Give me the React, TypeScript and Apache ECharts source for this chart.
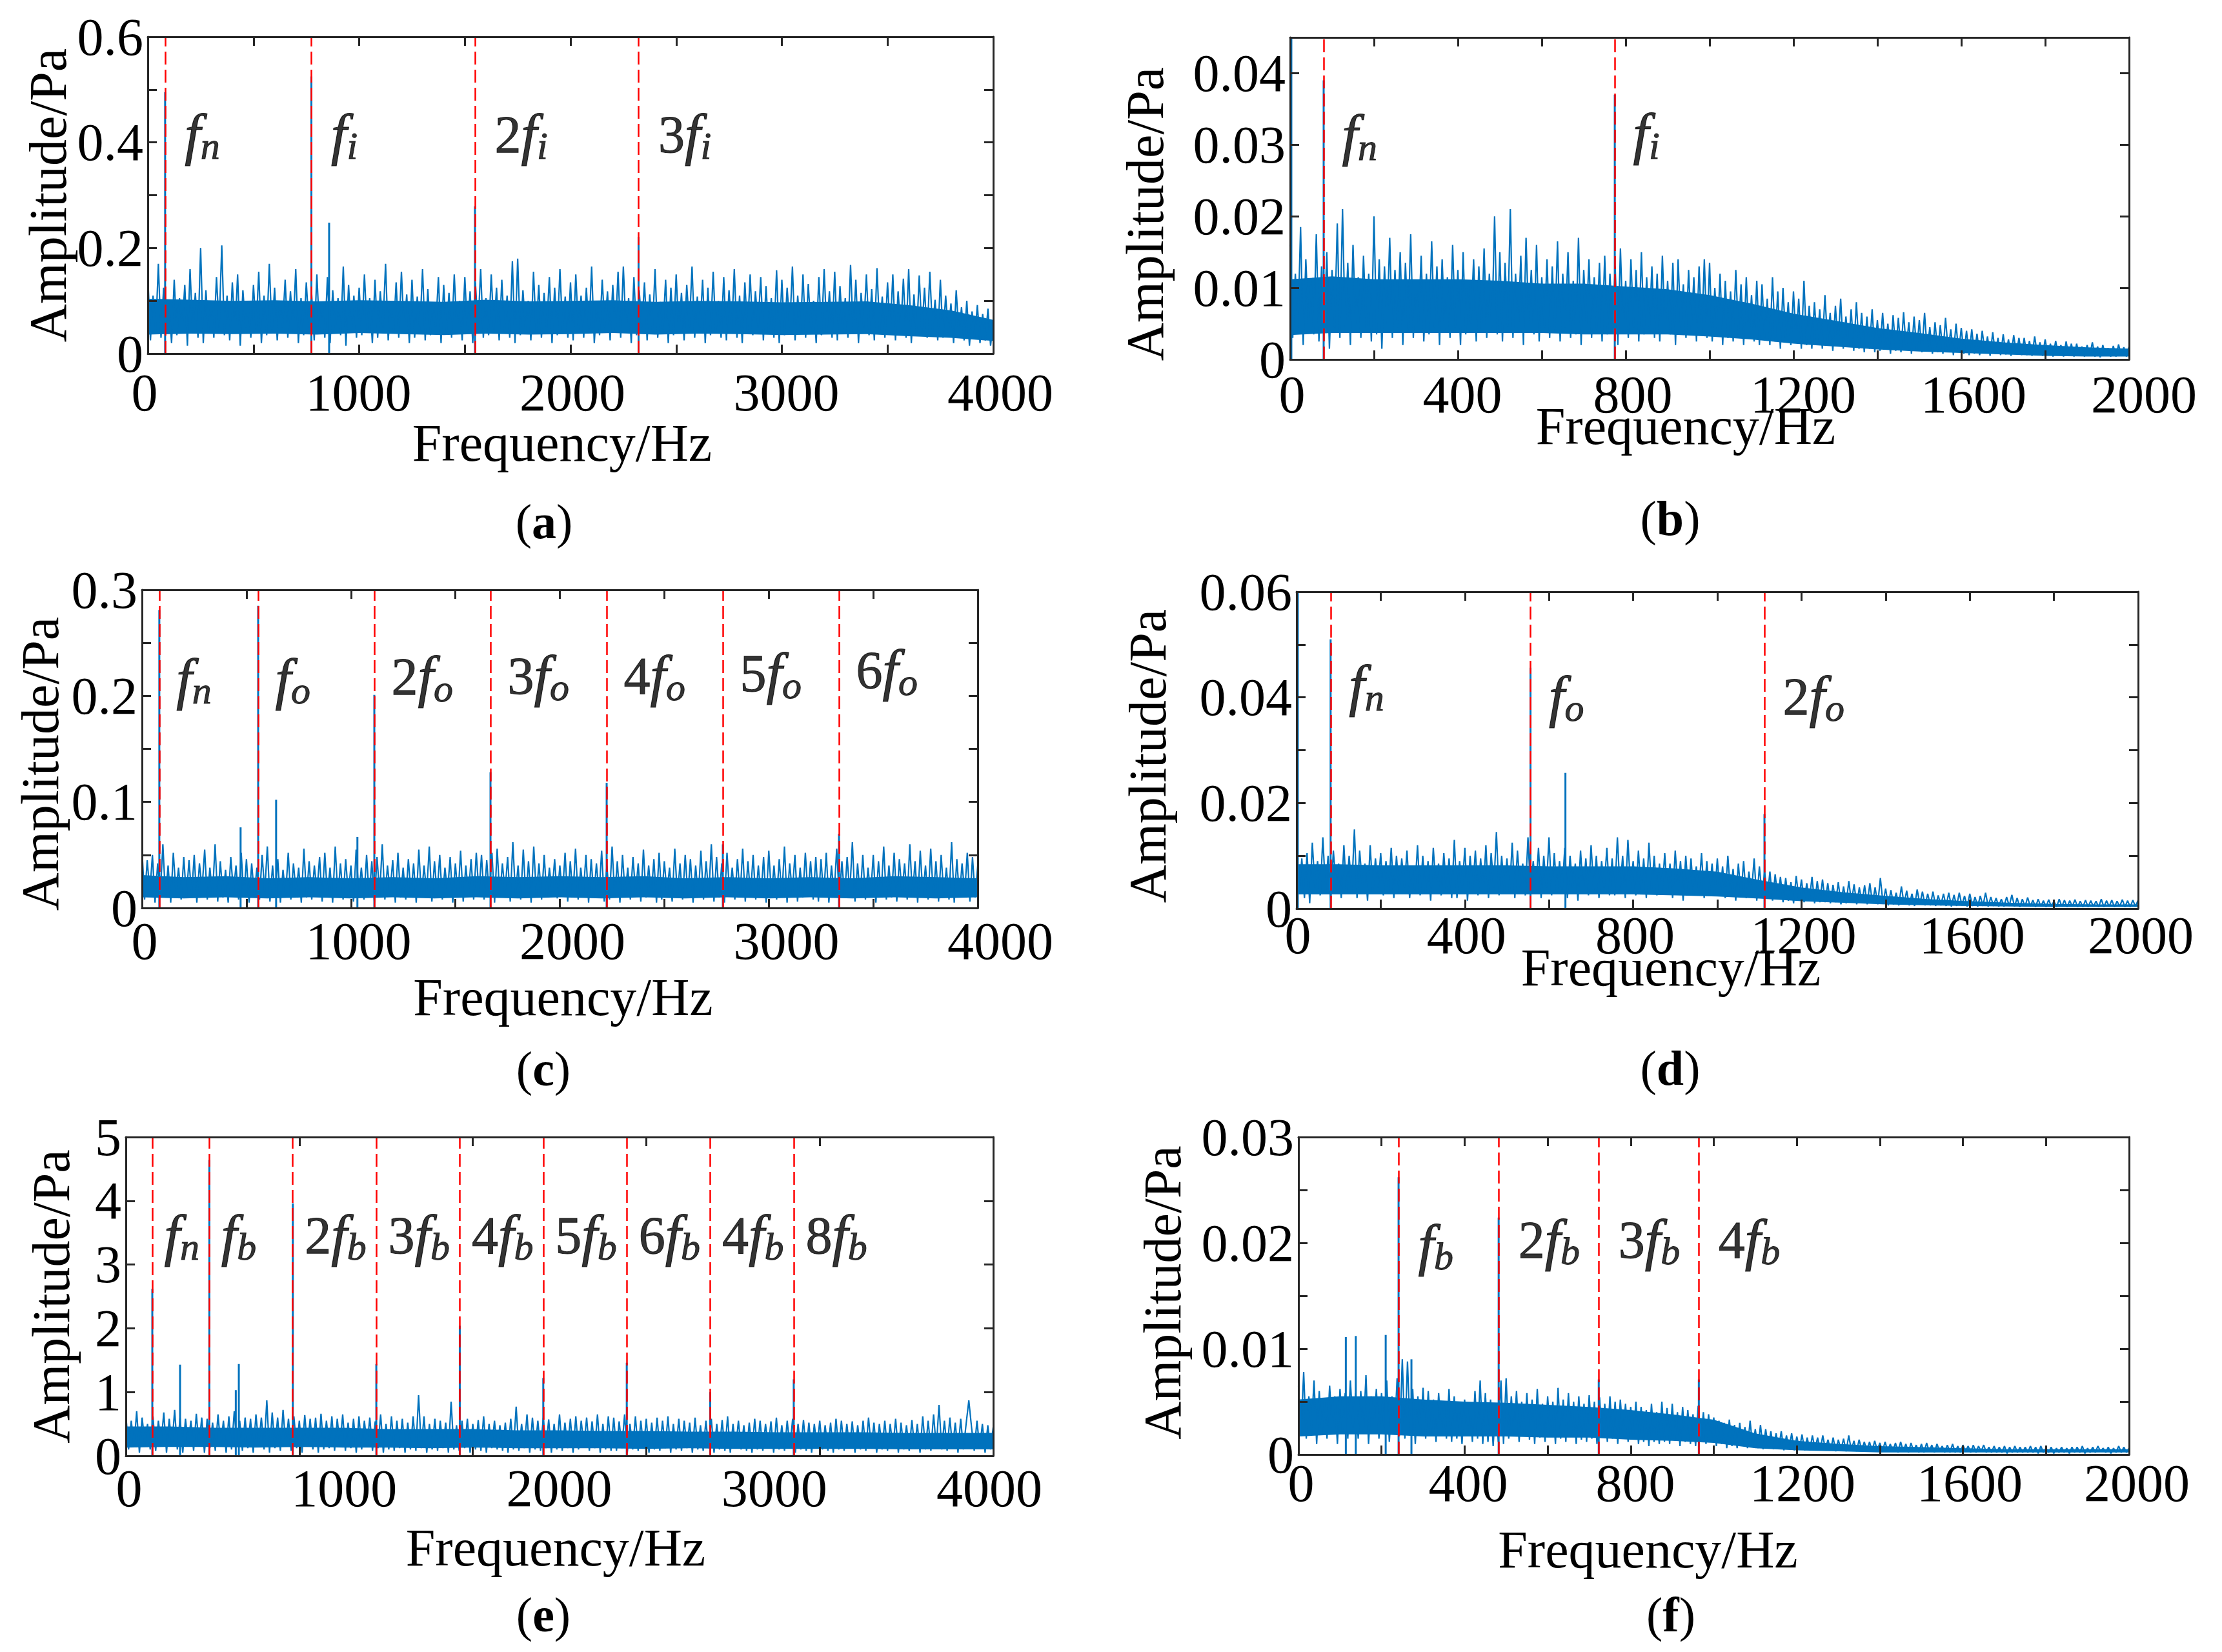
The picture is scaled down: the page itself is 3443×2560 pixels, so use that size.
import React, { useEffect, useRef } from "react";
import * as echarts from "echarts";

const FONT = "'Liberation Serif', 'Times New Roman', Times, serif";
const BLUE = "#0072BD";
const AXIS = "#262626";

// ---------- (a) amplitude in mPa, one value every 12.5 Hz ----------
const unitA = 0.001;
const noiseStepA = 12.5;
const noiseA = [
  150, 25, 110, 40, 170, 30, 125, 55, 95, 20, 140, 35, 105, 45, 130, 15, 160, 40, 115, 30,
  200, 20, 120, 45, 100, 30, 145, 50, 205, 35, 110, 25, 135, 40, 150, 15, 120, 50, 98, 30,
  130, 45, 155, 20, 110, 35, 170, 40, 125, 25, 100, 50, 140, 30, 118, 45, 160, 20, 105, 35,
  135, 50, 115, 25, 150, 40, 98, 30, 145, 20, 120, 45, 105, 35, 165, 15, 130, 40, 110, 30,
  125, 35, 150, 45, 105, 20, 140, 30, 118, 50, 170, 25, 100, 40, 135, 30, 155, 45, 112, 20,
  140, 30, 108, 45, 160, 25, 122, 35, 96, 50, 145, 20, 130, 40, 115, 30, 150, 45, 100, 25,
  145, 40, 118, 20, 135, 50, 160, 30, 105, 35, 150, 45, 125, 25, 140, 40, 110, 30, 175, 20,
  180, 35, 120, 45, 100, 25, 155, 40, 130, 30, 115, 50, 145, 20, 125, 35, 160, 45, 108, 30,
  135, 25, 150, 45, 110, 30, 125, 40, 165, 20, 100, 35, 140, 50, 118, 25, 130, 40, 155, 30,
  165, 45, 105, 20, 145, 35, 120, 50, 135, 25, 112, 40, 160, 30, 98, 45, 140, 20, 125, 35,
  150, 40, 115, 25, 130, 50, 165, 30, 108, 45, 140, 20, 125, 35, 155, 40, 100, 30, 145, 25,
  120, 45, 160, 30, 110, 20, 135, 40, 150, 35, 118, 50, 145, 25, 128, 40, 105, 30, 158, 20,
  140, 35, 125, 50, 165, 25, 110, 40, 150, 30, 132, 45, 100, 20, 145, 35, 160, 40, 118, 30,
  155, 25, 128, 45, 105, 30, 168, 40, 140, 20, 115, 50, 150, 35, 122, 25, 162, 45, 108, 30,
  135, 40, 150, 25, 118, 45, 142, 30, 160, 20, 112, 35, 148, 40, 125, 30, 155, 45, 102, 25,
  140, 30, 110, 40, 95, 20, 120, 35, 88, 25, 100, 15, 80, 30, 92, 20, 75, 25, 85, 15,
  60,
];
const bandStepA = 200;
const bandLowA = [36, 38, 37, 38, 36, 39, 37, 35, 38, 36, 37, 39, 36, 38, 37, 35, 36, 37, 33, 30, 24];
const bandHighA = [104, 102, 100, 101, 99, 101, 100, 98, 102, 99, 100, 101, 98, 100, 99, 97, 98, 99, 92, 82, 64];
const peakFreqA = [82, 774, 858, 1548, 2322];
const peakAmpA = [0.495, 0.525, 0.248, 0.279, 0.221];
const markFreqA = [82, 774, 1548, 2322];
const markTextA = ["f_n", "f_i", "2f_i", "3f_i"];
const markYA = [0.415, 0.415, 0.415, 0.415];
const axisA = { xMax: 4000, xTick: 500, xLabelMax: 4000, xLabelStep: 1000, yMax: 0.6, yTick: 0.1, yLabelStep: 0.2 };

// ---------- (b) amplitude in 1e-4 Pa, one value every 6.25 Hz ----------
const unitB = 0.0001;
const noiseStepB = 6.25;
const noiseB = [
  160, 30, 120, 45, 185, 20, 140, 50, 110, 35, 175, 25, 130, 40, 150, 15, 125, 45, 190, 30,
  210, 40, 135, 20, 160, 50, 115, 30, 145, 45, 120, 25, 200, 35, 140, 15, 130, 50, 170, 30,
  125, 45, 150, 20, 135, 40, 175, 30, 110, 50, 145, 25, 120, 35, 165, 45, 130, 20, 140, 40,
  115, 30, 160, 45, 125, 20, 150, 35, 105, 50, 140, 25, 130, 40, 155, 30, 120, 45, 200, 35,
  150, 25, 135, 45, 210, 30, 120, 40, 145, 20, 170, 50, 125, 35, 160, 25, 115, 45, 140, 30,
  130, 40, 165, 25, 120, 45, 150, 30, 110, 35, 170, 20, 125, 50, 140, 30, 115, 40, 135, 25,
  145, 35, 120, 45, 130, 20, 155, 40, 110, 30, 140, 45, 125, 25, 150, 35, 115, 40, 130, 30,
  120, 25, 145, 40, 110, 35, 135, 20, 140, 45, 105, 30, 125, 40, 115, 25, 130, 35, 140, 30,
  135, 25, 100, 35, 120, 20, 110, 30, 95, 25, 125, 35, 105, 20, 115, 30, 90, 25, 110, 20,
  105, 30, 85, 20, 115, 25, 95, 15, 100, 30, 80, 20, 95, 25, 85, 15, 110, 20, 75, 15,
  80, 20, 70, 15, 90, 25, 65, 12, 75, 20, 85, 15, 60, 18, 70, 12, 80, 15, 65, 10,
  60, 15, 70, 10, 55, 12, 65, 15, 50, 8, 62, 12, 58, 10, 66, 14, 52, 8, 60, 12,
  55, 10, 65, 12, 45, 8, 52, 10, 48, 8, 58, 12, 42, 6, 50, 10, 44, 8, 40, 6,
  42, 8, 36, 6, 40, 10, 32, 5, 38, 8, 30, 6, 35, 7, 28, 5, 34, 8, 30, 6,
  30, 6, 26, 5, 32, 7, 24, 5, 28, 6, 22, 4, 26, 6, 20, 4, 25, 5, 22, 4,
  22, 5, 18, 4, 20, 5, 24, 4, 18, 3, 20, 5, 16, 4, 19, 4, 21, 5, 17, 4,
  18,
];
const bandStepB = 100;
const bandLowB = [34, 37, 37, 37, 37, 37, 37, 35, 35, 35, 32, 28, 22, 18, 14, 11, 9, 7, 5, 4, 4];
const bandHighB = [112, 116, 112, 112, 112, 110, 106, 106, 102, 98, 90, 78, 64, 54, 44, 37, 29, 24, 20, 17, 15];
const peakFreqB = [3, 80, 774];
const peakAmpB = [0.046, 0.039, 0.037];
const markFreqB = [80, 774];
const markTextB = ["f_n", "f_i"];
const markYB = [0.0313, 0.0315];
const axisB = { xMax: 2000, xTick: 200, xLabelMax: 2000, xLabelStep: 400, yMax: 0.045, yTick: 0.01, yLabelStep: 0.01 };

// ---------- (c) amplitude in mPa, one value every 12.5 Hz ----------
const unitC = 0.001;
const noiseStepC = 12.5;
const noiseC = [
  55, 8, 45, 15, 50, 5, 42, 12, 60, 10, 40, 5, 52, 15, 38, 8, 48, 10, 45, 12,
  50, 5, 42, 18, 55, 8, 38, 12, 60, 6, 44, 10, 36, 5, 48, 15, 40, 8, 52, 10,
  46, 5, 42, 12, 38, 8, 50, 15, 58, 6, 40, 10, 46, 5, 36, 12, 52, 8, 42, 14,
  38, 5, 56, 10, 44, 8, 40, 15, 48, 6, 52, 12, 38, 5, 58, 10, 42, 8, 46, 12,
  40, 6, 55, 14, 38, 8, 50, 10, 44, 5, 48, 12, 60, 8, 40, 15, 45, 5, 52, 10,
  38, 8, 46, 12, 42, 5, 55, 10, 40, 14, 58, 6, 44, 12, 50, 8, 38, 15, 48, 5,
  42, 10, 54, 6, 40, 12, 46, 8, 52, 14, 50, 8, 45, 12, 52, 5, 56, 10, 42, 15,
  48, 6, 62, 12, 40, 8, 55, 10, 44, 5, 58, 12, 42, 8, 50, 10, 38, 14, 46, 9,
  40, 12, 52, 6, 44, 10, 56, 8, 38, 14, 50, 5, 46, 10, 42, 12, 54, 6, 40, 8,
  58, 10, 44, 5, 50, 12, 38, 8, 48, 14, 42, 6, 55, 10, 40, 12, 46, 5, 52, 8,
  44, 14, 38, 6, 56, 10, 42, 8, 50, 12, 46, 5, 40, 10, 54, 8, 44, 12, 60, 6,
  48, 10, 42, 5, 52, 14, 38, 8, 46, 10, 56, 6, 44, 12, 50, 8, 40, 10, 48, 5,
  54, 12, 40, 8, 46, 10, 58, 5, 42, 14, 50, 6, 38, 10, 52, 12, 44, 8, 48, 6,
  46, 10, 52, 5, 40, 12, 56, 8, 44, 10, 48, 14, 62, 6, 42, 10, 50, 8, 38, 12,
  50, 5, 44, 12, 58, 8, 40, 10, 52, 6, 46, 14, 42, 8, 60, 10, 44, 5, 54, 12,
  40, 8, 56, 10, 44, 6, 50, 12, 38, 8, 62, 5, 46, 10, 42, 14, 52, 6, 48, 10,
  40,
];
const bandStepC = 200;
const bandLowC = [10, 9, 10, 9, 10, 9, 10, 9, 10, 9, 10, 9, 10, 9, 10, 9, 10, 9, 10, 9, 10];
const bandHighC = [31, 29, 30, 28, 29, 28, 29, 28, 30, 29, 30, 29, 30, 28, 29, 28, 29, 28, 30, 29, 28];
const peakFreqC = [83, 472, 556, 642, 1031, 1112, 1668, 2224, 2780, 3336];
const peakAmpC = [0.281, 0.076, 0.285, 0.102, 0.067, 0.201, 0.128, 0.118, 0.06, 0.07];
const markFreqC = [83, 556, 1112, 1668, 2224, 2780, 3336];
const markTextC = ["f_n", "f_o", "2f_o", "3f_o", "4f_o", "5f_o", "6f_o"];
const markYC = [0.216, 0.216, 0.218, 0.219, 0.219, 0.221, 0.224];
const axisC = { xMax: 4000, xTick: 500, xLabelMax: 4000, xLabelStep: 1000, yMax: 0.3, yTick: 0.05, yLabelStep: 0.1 };

// ---------- (d) amplitude in 1e-4 Pa, one value every 6.25 Hz ----------
const unitD = 0.0001;
const noiseStepD = 6.25;
const noiseD = [
  115, 30, 95, 20, 105, 10, 125, 40, 90, 25, 135, 35, 100, 15, 110, 45, 85, 20, 120, 30,
  100, 35, 150, 20, 110, 45, 85, 15, 120, 30, 95, 40, 105, 25, 90, 35, 115, 20, 100, 30,
  95, 40, 110, 20, 80, 35, 120, 25, 100, 30, 90, 15, 115, 40, 85, 25, 105, 35, 95, 20,
  130, 20, 90, 40, 115, 15, 100, 35, 110, 25, 95, 30, 120, 20, 105, 40, 145, 25, 100, 30,
  95, 30, 125, 20, 110, 40, 85, 25, 135, 30, 90, 35, 115, 20, 100, 40, 135, 25, 105, 30,
  90, 35, 115, 20, 100, 40, 85, 15, 110, 30, 95, 25, 120, 35, 100, 20, 90, 40, 115, 25,
  95, 25, 135, 35, 100, 20, 130, 40, 90, 25, 110, 30, 95, 20, 125, 35, 100, 25, 85, 30,
  105, 30, 85, 20, 110, 35, 90, 15, 100, 30, 95, 25, 80, 35, 105, 20, 90, 30, 85, 25,
  95, 25, 80, 20, 100, 30, 75, 15, 85, 25, 90, 20, 70, 30, 95, 15, 80, 25, 70, 20,
  70, 15, 65, 20, 60, 12, 58, 15, 50, 10, 62, 18, 55, 12, 48, 15, 60, 10, 52, 12,
  55, 12, 48, 10, 45, 12, 50, 8, 42, 10, 52, 12, 46, 8, 40, 10, 44, 8, 48, 10,
  40, 8, 58, 10, 38, 6, 35, 8, 30, 6, 42, 8, 34, 6, 28, 5, 36, 8, 32, 6,
  28, 6, 32, 5, 25, 6, 28, 5, 30, 4, 26, 5, 30, 6, 24, 4, 28, 5, 22, 4,
  24, 5, 30, 4, 22, 5, 20, 4, 18, 4, 22, 5, 26, 4, 20, 3, 18, 4, 21, 4,
  16, 3, 18, 4, 15, 3, 17, 4, 14, 3, 18, 4, 16, 3, 15, 4, 17, 3, 14, 3,
  16, 3, 15, 4, 14, 3, 18, 3, 15, 4, 16, 3, 14, 4, 17, 3, 15, 3, 16, 4,
  16,
];
const bandStepD = 100;
const bandLowD = [27, 27, 27, 27, 27, 27, 27, 27, 27, 25, 23, 19, 14, 11, 8, 6, 5, 4, 3, 3, 3];
const bandHighD = [84, 84, 82, 82, 82, 82, 80, 80, 80, 76, 70, 54, 40, 31, 24, 18, 14, 11, 9, 8, 8];
const peakFreqD = [3, 81, 556, 639, 1112];
const peakAmpD = [0.06, 0.051, 0.0456, 0.0257, 0.0179];
const markFreqD = [81, 556, 1112];
const markTextD = ["f_n", "f_o", "2f_o"];
const markYD = [0.0422, 0.0402, 0.0402];
const axisD = { xMax: 2000, xTick: 200, xLabelMax: 2000, xLabelStep: 400, yMax: 0.06, yTick: 0.01, yLabelStep: 0.02 };

// ---------- (e) amplitude in 0.01 Pa, one value every 12.5 Hz ----------
const unitE = 0.01;
const noiseStepE = 12.5;
const noiseE = [
  65, 10, 55, 15, 70, 5, 60, 20, 50, 10, 62, 8, 55, 20, 68, 5, 58, 15, 72, 10,
  60, 5, 58, 18, 55, 8, 66, 15, 60, 5, 58, 12, 52, 8, 65, 15, 55, 5, 62, 10,
  70, 15, 55, 8, 60, 12, 58, 5, 65, 18, 60, 10, 87, 5, 68, 12, 60, 8, 72, 15,
  58, 8, 62, 12, 55, 5, 64, 15, 58, 10, 60, 5, 66, 10, 55, 12, 62, 8, 58, 15,
  65, 8, 52, 12, 58, 5, 62, 10, 55, 15, 60, 8, 54, 12, 65, 5, 50, 10, 62, 8,
  55, 12, 58, 5, 52, 10, 62, 8, 95, 12, 62, 5, 50, 10, 58, 8, 55, 12, 52, 5,
  85, 10, 48, 8, 55, 12, 58, 5, 50, 10, 56, 8, 62, 5, 50, 12, 55, 10, 48, 8,
  52, 5, 58, 10, 77, 8, 50, 12, 65, 5, 60, 10, 55, 8, 60, 12, 57, 5, 50, 10,
  65, 8, 52, 12, 58, 5, 62, 10, 55, 15, 60, 8, 54, 12, 65, 5, 50, 10, 62, 8,
  60, 8, 54, 12, 65, 5, 50, 10, 62, 8, 55, 12, 58, 5, 52, 10, 60, 8, 55, 12,
  62, 5, 50, 10, 58, 8, 55, 12, 52, 5, 60, 10, 48, 8, 55, 12, 58, 5, 50, 10,
  56, 8, 62, 5, 50, 12, 55, 10, 48, 8, 52, 5, 58, 10, 55, 8, 50, 12, 54, 5,
  60, 10, 48, 8, 55, 12, 58, 5, 50, 10, 56, 8, 52, 5, 50, 12, 55, 10, 48, 8,
  52, 5, 58, 10, 55, 8, 50, 12, 54, 5, 48, 10, 55, 8, 60, 12, 52, 5, 50, 10,
  55, 8, 50, 12, 58, 5, 52, 10, 48, 8, 56, 12, 50, 5, 62, 10, 55, 8, 65, 12,
  80, 10, 55, 8, 60, 12, 52, 5, 58, 10, 50, 87, 45, 8, 55, 12, 50, 5, 48, 10,
  45,
];
const bandStepE = 200;
const bandLowE = [13, 14, 14, 13, 14, 13, 13, 12, 13, 12, 12, 12, 11, 12, 11, 11, 11, 11, 10, 10, 10];
const bandHighE = [46, 46, 44, 44, 44, 44, 42, 42, 42, 40, 40, 39, 39, 38, 38, 37, 37, 37, 36, 36, 36];
const peakFreqE = [122, 250, 385, 507, 521, 770, 1155, 1540, 1925, 2310, 2695, 3080];
const peakAmpE = [2.62, 1.43, 4.64, 1.03, 1.44, 3.96, 1.44, 2.04, 1.22, 1.46, 1.0, 1.2];
const markFreqE = [122, 385, 770, 1155, 1540, 1925, 2310, 2695, 3080];
const markTextE = ["f_n", "f_b", "2f_b", "3f_b", "4f_b", "5f_b", "6f_b", "4f_b", "8f_b"];
const markYE = [3.46, 3.46, 3.46, 3.46, 3.46, 3.46, 3.46, 3.46, 3.46];
const axisE = { xMax: 4000, xTick: 800, xLabelMax: 4000, xLabelStep: 1000, yMax: 5, yTick: 1, yLabelStep: 1 };

// ---------- (f) amplitude in 1e-4 Pa, one value every 6.25 Hz ----------
const unitF = 0.0001;
const noiseStepF = 6.25;
const noiseF = [
  65, 20, 78, 15, 55, 25, 70, 10, 60, 20, 50, 15, 65, 25, 55, 10, 62, 20, 58, 15,
  70, 25, 58, 15, 60, 20, 75, 10, 55, 22, 62, 15, 58, 25, 70, 12, 55, 20, 72, 18,
  90, 15, 88, 22, 62, 10, 55, 20, 63, 15, 60, 18, 52, 12, 58, 20, 50, 15, 62, 12,
  55, 15, 50, 10, 52, 18, 48, 12, 60, 15, 70, 10, 58, 12, 52, 8, 48, 12, 70, 10,
  72, 15, 55, 20, 60, 12, 50, 18, 58, 14, 52, 10, 62, 16, 48, 12, 55, 18, 50, 10,
  63, 15, 52, 12, 58, 18, 50, 10, 55, 14, 48, 12, 56, 15, 50, 10, 54, 16, 48, 12,
  55, 15, 50, 10, 52, 18, 48, 12, 45, 15, 50, 10, 45, 12, 42, 8, 48, 12, 40, 10,
  50, 12, 44, 10, 48, 14, 40, 8, 45, 12, 42, 10, 38, 8, 46, 12, 40, 10, 38, 12,
  35, 8, 32, 10, 30, 6, 33, 8, 28, 6, 30, 8, 26, 6, 32, 7, 24, 6, 28, 5,
  24, 6, 22, 5, 20, 6, 22, 4, 18, 5, 20, 4, 17, 5, 19, 4, 16, 4, 18, 5,
  16, 4, 18, 5, 14, 4, 16, 3, 14, 4, 15, 3, 18, 4, 13, 3, 14, 4, 12, 3,
  12, 3, 13, 4, 11, 3, 12, 3, 10, 3, 11, 2, 12, 3, 10, 2, 11, 3, 9, 2,
  10, 2, 11, 3, 9, 2, 10, 3, 8, 2, 9, 2, 10, 2, 8, 2, 9, 3, 8, 2,
  9, 2, 8, 3, 9, 2, 7, 2, 8, 2, 7, 2, 8, 1, 7, 2, 8, 2, 7, 2,
  7, 2, 8, 2, 7, 1, 8, 2, 6, 2, 7, 1, 6, 2, 7, 2, 6, 1, 7, 2,
  7, 2, 8, 1, 6, 2, 7, 2, 8, 3, 6, 2, 7, 1, 6, 2, 8, 2, 7, 2,
  6,
];
const bandStepF = 100;
const bandLowF = [17, 19, 19, 17, 17, 17, 16, 16, 14, 13, 11, 6, 4, 3, 2, 2, 2, 2, 2, 2, 2];
const bandHighF = [52, 55, 55, 52, 50, 49, 47, 45, 42, 38, 33, 20, 13, 10, 8, 7, 6, 5, 5, 5, 5];
const peakFreqF = [114, 138, 210, 241, 272, 482, 723, 964];
const peakAmpF = [0.0111, 0.0112, 0.0113, 0.0262, 0.009, 0.0224, 0.0071, 0.0071];
const markFreqF = [241, 482, 723, 964];
const markTextF = ["f_b", "2f_b", "3f_b", "4f_b"];
const markYF = [0.0198, 0.0203, 0.0203, 0.0203];
const axisF = { xMax: 2000, xTick: 200, xLabelMax: 2000, xLabelStep: 400, yMax: 0.03, yTick: 0.005, yLabelStep: 0.01 };

const captions = ["a", "b", "c", "d", "e", "f"];

const PANELS = [
  { noise: noiseA, step: noiseStepA, unit: unitA, low: bandLowA, high: bandHighA, bandStep: bandStepA, pf: peakFreqA, pa: peakAmpA, mf: markFreqA, mt: markTextA, my: markYA, axis: axisA },
  { noise: noiseB, step: noiseStepB, unit: unitB, low: bandLowB, high: bandHighB, bandStep: bandStepB, pf: peakFreqB, pa: peakAmpB, mf: markFreqB, mt: markTextB, my: markYB, axis: axisB },
  { noise: noiseC, step: noiseStepC, unit: unitC, low: bandLowC, high: bandHighC, bandStep: bandStepC, pf: peakFreqC, pa: peakAmpC, mf: markFreqC, mt: markTextC, my: markYC, axis: axisC },
  { noise: noiseD, step: noiseStepD, unit: unitD, low: bandLowD, high: bandHighD, bandStep: bandStepD, pf: peakFreqD, pa: peakAmpD, mf: markFreqD, mt: markTextD, my: markYD, axis: axisD },
  { noise: noiseE, step: noiseStepE, unit: unitE, low: bandLowE, high: bandHighE, bandStep: bandStepE, pf: peakFreqE, pa: peakAmpE, mf: markFreqE, mt: markTextE, my: markYE, axis: axisE },
  { noise: noiseF, step: noiseStepF, unit: unitF, low: bandLowF, high: bandHighF, bandStep: bandStepF, pf: peakFreqF, pa: peakAmpF, mf: markFreqF, mt: markTextF, my: markYF, axis: axisF },
];

// layout (pixels)
const LAYOUT = [
  { left: 229, top: 57, width: 1310, height: 491, labelLeft: 224, labelWidth: 1326, labelMargin: 19, xNameGap: 97, xNameShift: -13, yNameGap: 114, yNameShift: 0, markDist: 30, capX: 843, capY: 808 },
  { left: 1999, top: 58, width: 1300, height: 499, labelLeft: 2002, labelWidth: 1320, labelMargin: 13, xNameGap: 62, xNameShift: -37, yNameGap: 184, yNameShift: 24, markDist: 28, capX: 2588, capY: 803 },
  { left: 220, top: 914, width: 1295, height: 493, labelLeft: 224, labelWidth: 1326, labelMargin: 10, xNameGap: 97, xNameShift: 5, yNameGap: 117, yNameShift: 23, markDist: 26, capX: 842, capY: 1656 },
  { left: 2009, top: 917, width: 1304, height: 491, labelLeft: 2011, labelWidth: 1306, labelMargin: 0, xNameGap: 50, xNameShift: -72, yNameGap: 190, yNameShift: 9, markDist: 28, capX: 2588, capY: 1655 },
  { left: 195, top: 1762, width: 1344, height: 494, labelLeft: 200, labelWidth: 1333, labelMargin: 9, xNameGap: 101, xNameShift: -6, yNameGap: 75, yNameShift: 0, markDist: 18, capX: 842, capY: 2502 },
  { left: 2012, top: 1762, width: 1287, height: 492, labelLeft: 2016, labelWidth: 1295, labelMargin: 3, xNameGap: 106, xNameShift: -102, yNameGap: 170, yNameShift: -5, markDist: 30, capX: 2589, capY: 2502 },
];

function richLabel(t: string): string {
  const m = t.match(/^(\d*)f_(\w)$/);
  if (!m) return t;
  return (m[1] ? `{n|${m[1]}}` : "") + `{f|f}{s|${m[2]}}`;
}

const MARK_RICH = {
  n: { fontFamily: FONT, fontSize: 82, color: "#000", lineHeight: 96, textBorderColor: "#000", textBorderWidth: 1 },
  f: { fontFamily: FONT, fontSize: 88, fontStyle: "italic", color: "#000", lineHeight: 96, textBorderColor: "#000", textBorderWidth: 1.2 },
  s: { fontFamily: FONT, fontSize: 60, fontStyle: "italic", color: "#000", lineHeight: 56, verticalAlign: "bottom", textBorderColor: "#000", textBorderWidth: 1 },
};

function yFormatter(step: number) {
  return (v: number) => {
    const k = v / step;
    if (Math.abs(k - Math.round(k)) > 1e-6) return "";
    return v === 0 ? "0" : String(parseFloat(v.toFixed(4)));
  };
}

function hPad(shift: number) {
  return shift >= 0 ? [0, 0, 0, 2 * shift] : [0, -2 * shift, 0, 0];
}

function buildOption() {
  const grid: any[] = [];
  const xAxis: any[] = [];
  const yAxis: any[] = [];
  const series: any[] = [];
  const graphic: any[] = [];
  const n = PANELS.length;

  PANELS.forEach((p, i) => {
    const L = LAYOUT[i];
    const ax = p.axis;
    grid[i] = { left: L.left, top: L.top, width: L.width, height: L.height, containLabel: false };
    grid[n + i] = { left: L.labelLeft, top: L.top, width: L.labelWidth, height: L.height, containLabel: false };

    const lineStyle = { color: AXIS, width: 3 };
    const tick = { show: true, inside: true, length: 14, lineStyle: { color: AXIS, width: 3 } };

    xAxis.push({
      type: "value", gridIndex: i, position: "bottom", min: 0, max: ax.xMax, interval: ax.xTick, z: 10,
      axisLine: { show: true, onZero: false, lineStyle },
      axisTick: tick, axisLabel: { show: false }, splitLine: { show: false },
      name: "Frequency/Hz", nameLocation: "middle", nameGap: L.xNameGap,
      nameTextStyle: { fontFamily: FONT, fontSize: 82, color: "#000", padding: hPad(L.xNameShift) },
    });
    xAxis.push({
      type: "value", gridIndex: i, position: "top", min: 0, max: ax.xMax, interval: ax.xTick, z: 10,
      axisLine: { show: true, onZero: false, lineStyle },
      axisTick: tick, axisLabel: { show: false }, splitLine: { show: false },
    });
    xAxis.push({
      type: "value", gridIndex: n + i, position: "bottom", min: 0, max: ax.xLabelMax, interval: ax.xLabelStep,
      axisLine: { show: false, onZero: false }, axisTick: { show: false }, splitLine: { show: false },
      axisLabel: { show: true, fontFamily: FONT, fontSize: 82, color: "#000", margin: L.labelMargin, formatter: (v: number) => String(v) },
    });

    yAxis.push({
      type: "value", gridIndex: i, position: "left", min: 0, max: ax.yMax, interval: ax.yTick, z: 10,
      axisLine: { show: true, onZero: false, lineStyle },
      axisTick: tick, splitLine: { show: false },
      axisLabel: { show: true, fontFamily: FONT, fontSize: 82, color: "#000", margin: 7, formatter: yFormatter(ax.yLabelStep), showMaxLabel: true, showMinLabel: true },
      name: "Amplitude/Pa", nameLocation: "middle", nameGap: L.yNameGap,
      nameTextStyle: { fontFamily: FONT, fontSize: 82, color: "#000", padding: L.yNameShift >= 0 ? [0, 2 * L.yNameShift, 0, 0] : [0, 0, 0, -2 * L.yNameShift] },
    });
    yAxis.push({
      type: "value", gridIndex: i, position: "right", min: 0, max: ax.yMax, interval: ax.yTick, z: 10,
      axisLine: { show: true, onZero: false, lineStyle },
      axisTick: tick, axisLabel: { show: false }, splitLine: { show: false },
    });
    yAxis.push({ type: "value", gridIndex: n + i, min: 0, max: 1, show: false });

    const xi = 3 * i;
    const yi = 3 * i;

    // dense core of the spectrum: blue up to the upper envelope, white below the lower envelope
    series.push({
      type: "line", xAxisIndex: xi, yAxisIndex: yi, symbol: "none", silent: true,
      lineStyle: { width: 0, opacity: 0 }, areaStyle: { color: BLUE, opacity: 1, origin: "start" }, z: 1,
      data: p.high.map((v, k) => [k * p.bandStep, v * p.unit]),
    });
    series.push({
      type: "line", xAxisIndex: xi, yAxisIndex: yi, symbol: "none", silent: true,
      lineStyle: { width: 0, opacity: 0 }, areaStyle: { color: "#ffffff", opacity: 1, origin: "start" }, z: 2,
      data: p.low.map((v, k) => [k * p.bandStep, v * p.unit]),
    });
    series.push({
      type: "line", xAxisIndex: xi, yAxisIndex: yi, symbol: "none", silent: true,
      lineStyle: { color: BLUE, width: 2.2 }, z: 3,
      data: p.noise.map((v, k) => [k * p.step, v * p.unit]),
    });
    series.push({
      type: "bar", xAxisIndex: xi, yAxisIndex: yi, barWidth: 3, silent: true,
      itemStyle: { color: BLUE }, z: 4,
      data: p.pf.map((f, k) => [f, p.pa[k]]),
    });
    series.push({
      type: "scatter", xAxisIndex: xi, yAxisIndex: yi, symbolSize: 1, silent: true,
      itemStyle: { color: "rgba(0,0,0,0)" }, z: 5,
      data: p.mf.map((f, k) => [f, p.my[k]]),
      label: {
        show: true, position: "right", distance: L.markDist,
        formatter: (prm: any) => richLabel(p.mt[prm.dataIndex]),
        rich: MARK_RICH,
      },
      markLine: {
        silent: true, symbol: ["none", "none"], animation: false,
        label: { show: false },
        lineStyle: { color: "#FF0000", width: 2.5, type: [20, 8] },
        data: p.mf.map((f) => ({ xAxis: f })),
      },
    });

    graphic.push({
      type: "text", x: L.capX, y: L.capY, silent: true,
      style: {
        text: `{p|(}{b|${captions[i]}}{p|)}`,
        textAlign: "center", textVerticalAlign: "middle",
        rich: {
          p: { fontFamily: FONT, fontSize: 76, color: "#000" },
          b: { fontFamily: FONT, fontSize: 76, fontWeight: "bold", color: "#000" },
        },
      },
    });
  });

  return { animation: false, backgroundColor: "#fff", grid, xAxis, yAxis, series, graphic };
}

export default function App() {
  const ref = useRef<HTMLDivElement>(null);
  useEffect(() => {
    if (!ref.current) return;
    const chart = echarts.init(ref.current, undefined, { renderer: "svg" });
    chart.setOption(buildOption() as any);
    return () => chart.dispose();
  }, []);
  return (
    <div
      ref={ref}
      style={{ position: "fixed", left: 0, top: 0, width: 3443, height: 2560, background: "#fff" }}
    />
  );
}
